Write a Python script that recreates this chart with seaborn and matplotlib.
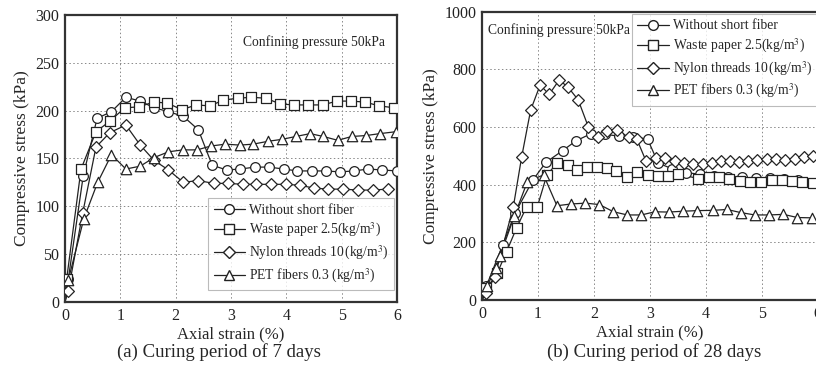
import numpy as np
import pandas as pd
import matplotlib
matplotlib.use("Agg")
import matplotlib.pyplot as plt
import seaborn as sns
from matplotlib.lines import Line2D

# (a) Curing period of 7 days
circ_a_x = [0.06, 0.33, 0.58, 0.84, 1.10, 1.36, 1.61, 1.87, 2.14, 2.41, 2.66, 2.92,
            3.17, 3.43, 3.69, 3.95, 4.20, 4.46, 4.71, 4.97, 5.22, 5.48, 5.73, 6.00]
circ_a_y = [24, 132, 192, 199, 214, 210, 203, 199, 194, 180, 143, 138,
            139, 141, 141, 139, 137, 137, 137, 136, 137, 139, 138, 137]
sq_a_x = [0.03, 0.29, 0.56, 0.81, 1.08, 1.34, 1.60, 1.85, 2.11, 2.37, 2.62, 2.86,
          3.12, 3.37, 3.63, 3.89, 4.14, 4.40, 4.66, 4.91, 5.17, 5.42, 5.68, 5.95]
sq_a_y = [24, 139, 178, 189, 203, 204, 209, 208, 201, 206, 205, 211,
          213, 214, 213, 207, 206, 206, 206, 210, 210, 209, 205, 203]
dia_a_x = [0.06, 0.32, 0.56, 0.81, 1.10, 1.36, 1.61, 1.87, 2.14, 2.40, 2.69, 2.95,
           3.21, 3.46, 3.73, 3.99, 4.25, 4.50, 4.76, 5.03, 5.29, 5.56, 5.83]
dia_a_y = [12, 93, 162, 177, 185, 164, 148, 138, 125, 127, 124, 124,
           123, 123, 123, 123, 122, 119, 118, 118, 117, 117, 118]
tri_a_x = [0.06, 0.34, 0.59, 0.84, 1.10, 1.36, 1.61, 1.87, 2.13, 2.39, 2.63, 2.90,
           3.16, 3.40, 3.67, 3.92, 4.17, 4.43, 4.67, 4.93, 5.18, 5.44, 5.69, 5.98]
tri_a_y = [23, 87, 125, 154, 139, 142, 151, 157, 159, 159, 163, 165,
           164, 165, 168, 170, 173, 176, 173, 169, 173, 174, 176, 178]

# (b) Curing period of 28 days
circ_b_x = [0.08, 0.37, 0.59, 0.91, 1.14, 1.44, 1.68, 1.94, 2.20, 2.45, 2.70, 2.96,
            3.15, 3.40, 3.65, 3.90, 4.15, 4.40, 4.65, 4.90, 5.15, 5.40, 5.65, 5.90]
circ_b_y = [49, 191, 301, 416, 477, 518, 552, 576, 575, 568, 566, 558,
            475, 455, 442, 436, 430, 427, 425, 423, 422, 420, 415, 405]
sq_b_x = [0.08, 0.27, 0.44, 0.62, 0.80, 0.99, 1.16, 1.34, 1.53, 1.70, 1.88, 2.06,
          2.23, 2.40, 2.59, 2.78, 2.96, 3.14, 3.32, 3.51, 3.87, 4.05, 4.23, 4.42,
          4.61, 4.80, 4.99, 5.18, 5.36, 5.54, 5.72, 5.92]
sq_b_y = [40, 92, 168, 251, 324, 324, 434, 474, 468, 451, 462, 460,
          457, 447, 428, 445, 434, 430, 430, 437, 421, 428, 428, 420,
          414, 409, 409, 416, 416, 413, 410, 406]
dia_b_x = [0.07, 0.23, 0.56, 0.71, 0.87, 1.04, 1.20, 1.38, 1.54, 1.72, 1.90, 2.08,
           2.24, 2.42, 2.62, 2.77, 2.93, 3.11, 3.27, 3.45, 3.61, 3.78, 3.95, 4.11,
           4.27, 4.44, 4.60, 4.76, 4.92, 5.09, 5.26, 5.42, 5.59, 5.75, 5.92]
dia_b_y = [23, 81, 323, 497, 659, 746, 713, 763, 738, 694, 601, 566,
           587, 590, 564, 557, 483, 494, 494, 483, 474, 472, 472, 476,
           482, 483, 480, 482, 486, 488, 488, 486, 489, 497, 500]
tri_b_x = [0.09, 0.25, 0.32, 0.58, 0.81, 1.10, 1.34, 1.59, 1.85, 2.10, 2.35, 2.60,
           2.85, 3.09, 3.34, 3.60, 3.85, 4.13, 4.38, 4.63, 4.88, 5.13, 5.39, 5.64, 5.90]
tri_b_y = [49, 110, 152, 292, 410, 434, 327, 333, 336, 331, 306, 295,
           295, 306, 305, 308, 310, 311, 314, 303, 295, 295, 297, 286, 285]

labels = ["Without short fiber", "Waste paper 2.5(kg/m$^3$)",
          "Nylon threads 10$\\,$(kg/m$^3$)", "PET fibers 0.3 (kg/m$^3$)"]
markers = ["o", "s", "D", "^"]
msizes = [7, 7.5, 6, 7.5]

panel_a = [(circ_a_x, circ_a_y), (sq_a_x, sq_a_y), (dia_a_x, dia_a_y), (tri_a_x, tri_a_y)]
panel_b = [(circ_b_x, circ_b_y), (sq_b_x, sq_b_y), (dia_b_x, dia_b_y), (tri_b_x, tri_b_y)]

sns.set_style("white")
plt.rcParams['font.family'] = ['Liberation Serif', 'DejaVu Serif']
plt.rcParams['mathtext.fontset'] = 'stix'

W, H = 816, 368
fig = plt.figure(figsize=(W / 100, H / 100), dpi=100)


def px_axes(left, top, right, bottom):
    return fig.add_axes([left / W, 1 - bottom / H, (right - left) / W, (bottom - top) / H])


ax_a = px_axes(65, 15, 397, 302)
ax_b = px_axes(482, 11.7, 817.6, 300)


def draw_panel(ax, series, ymax, ystep):
    for (x, y), m, ms in zip(series, markers, msizes):
        df = pd.DataFrame({"x": [0.0] + list(x), "y": [0.0] + list(y)})
        sns.lineplot(data=df, x="x", y="y", ax=ax, color="#222222", lw=0.9,
                     sort=False, estimator=None)
        sns.scatterplot(data=df.iloc[1:], x="x", y="y", ax=ax, marker=m, s=ms ** 2,
                        facecolor="white", edgecolor="#222222", linewidth=0.9, zorder=3)
    ax.set_xlim(0, 6)
    ax.set_ylim(0, ymax)
    ax.set_xticks(range(0, 7))
    ax.set_yticks(np.arange(0, ymax + 1, ystep))
    ax.grid(True, ls=(0, (1.5, 2.5)), color="#888888", lw=0.7)
    for s in ax.spines.values():
        s.set_color("#333333")
        s.set_linewidth(1.6)
    ax.tick_params(direction="in", length=3, width=0.8, labelsize=11.5, pad=4,
                   colors="#222222")
    ax.set_xlabel("Axial strain (%)", fontsize=12, labelpad=2)
    ax.set_ylabel("Compressive stress (kPa)", fontsize=12.5, labelpad=4)


draw_panel(ax_a, panel_a, 300, 50)
draw_panel(ax_b, panel_b, 1000, 200)

handles = [Line2D([], [], color="#222222", lw=0.9, marker=m, markersize=ms,
                  markerfacecolor="white", markeredgecolor="#222222")
           for m, ms in zip(markers, msizes)]

for ax, loc, anchor in [(ax_a, "lower right", ((394 - 65) / 332, (302 - 290) / 287)),
                        (ax_b, "upper left", ((632 - 482) / 335.6, (300 - 14) / 288.3))]:
    leg = ax.legend(handles, labels, loc=loc, bbox_to_anchor=anchor, fontsize=9.8,
                    frameon=True, fancybox=False, handlelength=2.3, handletextpad=0.3,
                    labelspacing=0.33, borderpad=0.4, borderaxespad=0)
    leg.get_frame().set_edgecolor("#aaaaaa")
    leg.get_frame().set_linewidth(0.8)

ax_a.text(0.965, 0.905, "Confining pressure 50kPa", transform=ax_a.transAxes,
          ha="right", va="center", fontsize=9.8)
ax_b.text(0.018, 0.935, "Confining pressure 50kPa", transform=ax_b.transAxes,
          ha="left", va="center", fontsize=9.8)

fig.text(219 / W, 1 - 352 / H, "(a) Curing period of 7 days", ha="center", va="center",
         fontsize=13.5)
fig.text(654 / W, 1 - 352 / H, "(b) Curing period of 28 days", ha="center", va="center",
         fontsize=13.5)

fig.savefig("out.png", dpi=100)
